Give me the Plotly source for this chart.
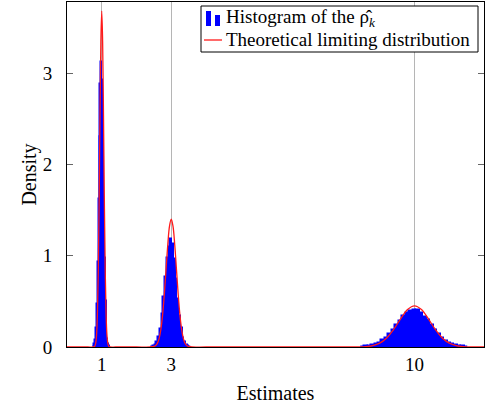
import plotly.graph_objects as go

# Histogram bins: (first bin centre, bin width, densities)
hist1_start, hist1_width = 0.775, 0.025
hist1 = [0.01, 0.03, 0.08, 0.21, 0.47, 0.93, 1.62, 2.31, 2.88, 3.12,
         2.93, 2.36, 1.58, 0.98, 0.50, 0.23, 0.09, 0.03, 0.01]

hist3_start, hist3_width = 2.45, 0.05
hist3 = [0.004, 0.01, 0.025, 0.05, 0.11, 0.20, 0.36, 0.55, 0.77, 0.98, 1.10, 1.18,
         1.13, 0.96, 0.75, 0.53, 0.34, 0.21, 0.10, 0.055, 0.022, 0.01, 0.004]

hist10_start, hist10_width = 8.5, 0.1
hist10 = [0.003, 0.006, 0.011, 0.019, 0.031, 0.046, 0.072, 0.100, 0.143, 0.186,
          0.240, 0.288, 0.340, 0.372, 0.398, 0.410, 0.404, 0.378, 0.333, 0.292,
          0.236, 0.190, 0.140, 0.104, 0.070, 0.048, 0.030, 0.018, 0.010, 0.006, 0.003]

# Theoretical limiting distribution
theo_x = [0, 0.6, 0.75, 0.8, 0.825, 0.85, 0.875, 0.9, 0.925, 0.95, 0.975, 1.0,
          1.025, 1.05, 1.075, 1.1, 1.125, 1.15, 1.175, 1.2, 1.25, 1.4,
          2.0, 2.4, 2.5, 2.55, 2.6, 2.65, 2.7, 2.75, 2.8, 2.85, 2.9, 2.95, 3.0,
          3.05, 3.1, 3.15, 3.2, 3.25, 3.3, 3.35, 3.4, 3.45, 3.5, 3.6, 4.0,
          6.0, 8.0, 8.4, 8.6, 8.8, 9.0, 9.2, 9.4, 9.6, 9.8, 10.0,
          10.2, 10.4, 10.6, 10.8, 11.0, 11.2, 11.4, 11.6, 12.0]
theo_y = [0, 0, 0.0, 0.01, 0.04, 0.13, 0.36, 0.83, 1.60, 2.54, 3.35, 3.68,
          3.35, 2.54, 1.60, 0.83, 0.36, 0.13, 0.04, 0.01, 0.0, 0,
          0, 0, 0.006, 0.016, 0.04, 0.092, 0.19, 0.349, 0.575, 0.85, 1.121, 1.324, 1.40,
          1.324, 1.121, 0.85, 0.575, 0.349, 0.19, 0.092, 0.04, 0.016, 0.006, 0, 0,
          0, 0, 0.001, 0.004, 0.015, 0.042, 0.099, 0.192, 0.308, 0.41, 0.45,
          0.41, 0.308, 0.192, 0.099, 0.042, 0.015, 0.004, 0.001, 0]

x_ticks = [1, 3, 10]
y_ticks = [0, 1, 2, 3]
hist_label = "Histogram of the \u03c1\u0302<sub><i>k</i></sub>"
theo_label = "Theoretical limiting distribution"

BLUE = "#0000ff"
RED = "#ff1a1a"
W, H = 486, 407
ML, MR, MT, MB = 67, 2, 2, 60
PW, PH = W - ML - MR, H - MT - MB


def px(x):  # pixel x -> paper x
    return (x - ML) / PW


def py(y):  # pixel y -> paper y
    return (H - MB - y) / PH


xs, ws, ys = [], [], []
for start, width, vals in [(hist1_start, hist1_width, hist1),
                           (hist3_start, hist3_width, hist3),
                           (hist10_start, hist10_width, hist10)]:
    for i, v in enumerate(vals):
        xs.append(round(start + i * width, 5))
        ws.append(width)
        ys.append(v)

fig = go.Figure()
fig.add_bar(x=xs, y=ys, width=ws, name=hist_label,
            marker=dict(color=BLUE, line=dict(color=BLUE, width=1.5)))
fig.add_scatter(x=theo_x, y=theo_y, mode="lines", name=theo_label,
                line=dict(color=RED, width=1.3, shape="spline"))

# Legend box drawn like the pgfplots legend
shapes = [
    dict(type="rect", xref="paper", yref="paper", x0=px(201), x1=px(478),
         y0=py(52), y1=py(6), line=dict(color="black", width=1),
         fillcolor="white", layer="above"),
    dict(type="rect", xref="paper", yref="paper", x0=px(206), x1=px(211),
         y0=py(26), y1=py(11), line=dict(width=0), fillcolor=BLUE, layer="above"),
    dict(type="rect", xref="paper", yref="paper", x0=px(215), x1=px(220),
         y0=py(26), y1=py(15), line=dict(width=0), fillcolor=BLUE, layer="above"),
    dict(type="line", xref="paper", yref="paper", x0=px(204), x1=px(222),
         y0=py(40), y1=py(40), line=dict(color=RED, width=1.3), layer="above"),
]
annotations = [
    dict(xref="paper", yref="paper", x=px(224), y=py(18), text=hist_label,
         showarrow=False, xanchor="left", yanchor="middle", font=dict(size=19)),
    dict(xref="paper", yref="paper", x=px(224), y=py(40), text=theo_label,
         showarrow=False, xanchor="left", yanchor="middle", font=dict(size=19)),
]

fig.update_layout(
    width=W, height=H,
    margin=dict(l=ML, r=MR, t=MT, b=MB, autoexpand=False),
    paper_bgcolor="white", plot_bgcolor="white",
    font=dict(family="Liberation Serif", size=18, color="black"),
    bargap=0, showlegend=False,
    shapes=shapes, annotations=annotations,
    xaxis=dict(range=[0, 12], tickvals=x_ticks, ticktext=[str(t) for t in x_ticks],
               showgrid=True, gridcolor="#b5b5b5", gridwidth=1,
               showline=True, linecolor="black", linewidth=1, mirror=True,
               ticks="", zeroline=False, layer="below traces", automargin=False,
               ticklabelstandoff=0, tickfont=dict(size=19),
               title=dict(text="Estimates", font=dict(size=20), standoff=12)),
    yaxis=dict(range=[0, 3.78], tickvals=y_ticks, tickfont=dict(size=19),
               showgrid=False, showline=True, linecolor="black", linewidth=1,
               mirror="ticks", ticks="inside", ticklen=6, tickcolor="#666",
               zeroline=False, layer="below traces", automargin=False,
               ticklabelstandoff=10,
               title=dict(text="Density", font=dict(size=20), standoff=0)),
)

fig.write_html("out.html", config={"displayModeBar": False},
               post_script="document.body.style.margin='0';")
